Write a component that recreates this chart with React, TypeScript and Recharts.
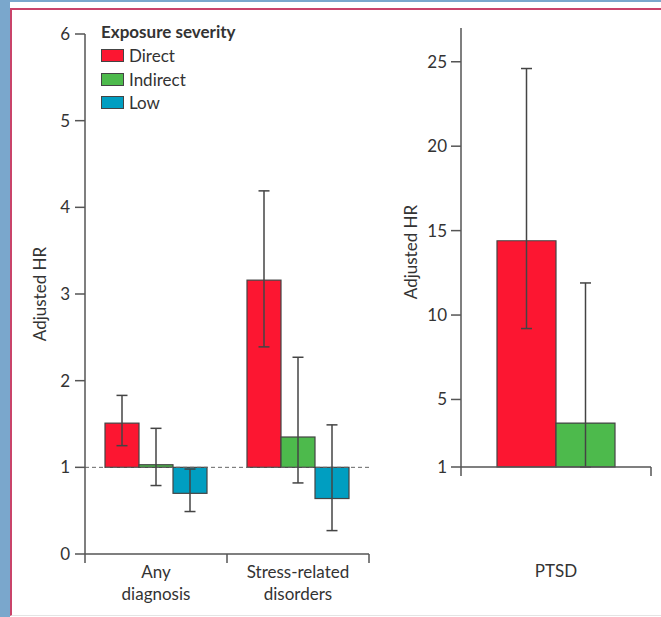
import { BarChart, Bar, XAxis, YAxis, ErrorBar, ReferenceLine, Legend } from 'recharts';

// hazard ratios by exposure severity, with 95% CI
const groups = ['Any diagnosis', 'Stress-related disorders'];
const direct = [1.51, 3.16];
const directCI = [[1.25, 1.83], [2.39, 4.19]];
const indirect = [1.03, 1.35];
const indirectCI = [[0.79, 1.45], [0.82, 2.27]];
const low = [0.7, 0.64];
const lowCI = [[0.49, 0.98], [0.27, 1.49]];

const ptsdGroups = ['PTSD'];
const ptsdDirect = [14.4];
const ptsdDirectCI = [[9.2, 24.6]];
const ptsdIndirect = [3.6];
const ptsdIndirectCI = [[1.0, 11.9]];

const leftTicks = [0, 1, 2, 3, 4, 5, 6];
const rightTicks = [1, 5, 10, 15, 20, 25];

const FONT = 'Lato, "Open Sans", sans-serif';
const INK = '#333';
const AXIS = '#555';
const EDGE = '#444';
const RED = '#fc1631';
const GREEN = '#4dba4c';
const BLUE = '#009ec1';

// ErrorBar wants offsets from the value, not the interval ends
const err = (v: number, ci: number[]) => [+(v - ci[0]).toFixed(2), +(ci[1] - v).toFixed(2)];

const mainRows = groups.map((name, i) => ({
  name,
  direct: direct[i],
  directErr: err(direct[i], directCI[i]),
  indirect: indirect[i],
  indirectErr: err(indirect[i], indirectCI[i]),
  low: low[i],
  lowErr: err(low[i], lowCI[i]),
}));

const ptsdRows = ptsdGroups.map((name, i) => ({
  name,
  direct: ptsdDirect[i],
  directErr: err(ptsdDirect[i], ptsdDirectCI[i]),
  indirect: ptsdIndirect[i],
  indirectErr: err(ptsdIndirect[i], ptsdIndirectCI[i]),
}));

// left panel layout
const L_W = 380;
const L_AXIS_W = 85;
const L_RIGHT = 11;
const L_BAND = (L_W - L_AXIS_W - L_RIGHT) / groups.length;

// right panel layout
const R_W = 281;
const R_AXIS_W = 81;
const R_RIGHT = 10;
const R_BAND = (R_W - R_AXIS_W - R_RIGHT) / ptsdGroups.length;

// Recharts lays the bar out from 0; redraw it from the HR = 1 line
function FloatingBar(props: any) {
  const { x, y, width, height, fill, v } = props;
  if (!v || !height) return null;
  const yZero = y + height;
  const yBase = yZero - height / v;
  const top = Math.min(y, yBase);
  const h = Math.abs(yBase - y);
  return <rect x={x} y={top} width={width} height={h} fill={fill} stroke={EDGE} strokeWidth={1.2} />;
}

const floating = (key: string) => (p: any) => <FloatingBar {...p} v={p.payload[key]} />;

function GroupTick(props: any) {
  const { x, y, payload, index, band, firstLine } = props;
  const words = String(payload.value).split(' ');
  const half = band / 2;
  return (
    <g>
      {index === 0 && (
        <line x1={x - half} x2={x - half} y1={y} y2={y + 9} stroke={AXIS} strokeWidth={1.5} />
      )}
      <line x1={x + half} x2={x + half} y1={y} y2={y + 9} stroke={AXIS} strokeWidth={1.5} />
      <text x={x} y={y + firstLine} textAnchor="middle" fill={INK} fontSize={17}>
        {words.map((w, i) => (
          <tspan key={i} x={x} dy={i === 0 ? 0 : 22}>
            {w}
          </tspan>
        ))}
      </text>
    </g>
  );
}

function AxisTitle({ cx, cy }: { cx: number; cy: number }) {
  return (
    <text
      x={cx}
      y={cy}
      transform={`rotate(-90 ${cx} ${cy})`}
      textAnchor="middle"
      dominantBaseline="central"
      fill={INK}
      fontSize={17}
    >
      Adjusted HR
    </text>
  );
}

function SeverityLegend({ payload }: any) {
  return (
    <div style={{ fontFamily: FONT, color: INK, fontSize: 17 }}>
      <div style={{ fontWeight: 700, lineHeight: '25px' }}>Exposure severity</div>
      {(payload || []).map((p: any) => (
        <div key={p.value} style={{ display: 'flex', alignItems: 'center', height: 23.5 }}>
          <span
            style={{
              display: 'inline-block',
              width: 21,
              height: 11,
              background: p.color,
              border: `1px solid ${EDGE}`,
              marginRight: 5,
            }}
          />
          <span>{p.value}</span>
        </div>
      ))}
    </div>
  );
}

const axisLine = { stroke: AXIS, strokeWidth: 1.5 };
const tickText = { fill: INK, fontSize: 17 };
const errProps = { width: 5.5, stroke: EDGE, strokeWidth: 1.5, direction: 'y' as const };

export default function App() {
  return (
    <div
      style={{
        position: 'absolute',
        left: 0,
        top: 0,
        width: 661,
        height: 617,
        background: '#fff',
        overflow: 'hidden',
        fontFamily: FONT,
      }}
    >
      {/* page frame */}
      <div style={{ position: 'absolute', left: 0, top: 0, width: 10, height: 617, background: '#7aa7cc' }} />
      <div style={{ position: 'absolute', left: 0, top: 0, width: 661, height: 2, background: '#7aa7cc' }} />
      <div
        style={{
          position: 'absolute',
          left: 10,
          top: 8,
          width: 700,
          height: 605,
          borderLeft: '2px solid #c9446a',
          borderTop: '2px solid #c9446a',
          borderBottom: '1px solid #e4e4e4',
        }}
      />

      {/* any diagnosis / stress-related disorders */}
      <div style={{ position: 'absolute', left: 0, top: 0 }}>
        <BarChart
          width={L_W}
          height={617}
          data={mainRows}
          margin={{ top: 34, right: L_RIGHT, bottom: 3, left: 0 }}
          barCategoryGap={20}
          barGap={0}
        >
          <XAxis
            dataKey="name"
            axisLine={axisLine}
            tickLine={false}
            tickSize={0}
            tickMargin={0}
            height={60}
            interval={0}
            tick={<GroupTick band={L_BAND} firstLine={24} />}
          />
          <YAxis
            type="number"
            domain={[0, 6]}
            ticks={leftTicks}
            width={L_AXIS_W}
            tickSize={10}
            tickMargin={5}
            axisLine={axisLine}
            tickLine={axisLine}
            tick={tickText}
            label={<AxisTitle cx={39} cy={294} />}
          />
          <ReferenceLine y={1} stroke="#666" strokeDasharray="4 3" strokeWidth={1} />
          <Legend
            layout="vertical"
            verticalAlign="middle"
            align="center"
            wrapperStyle={{ left: 101, top: 19, width: 'auto' }}
            content={<SeverityLegend />}
          />
          <Bar dataKey="direct" name="Direct" fill={RED} shape={floating('direct')} isAnimationActive={false}>
            <ErrorBar dataKey="directErr" {...errProps} />
          </Bar>
          <Bar dataKey="indirect" name="Indirect" fill={GREEN} shape={floating('indirect')} isAnimationActive={false}>
            <ErrorBar dataKey="indirectErr" {...errProps} />
          </Bar>
          <Bar dataKey="low" name="Low" fill={BLUE} shape={floating('low')} isAnimationActive={false}>
            <ErrorBar dataKey="lowErr" {...errProps} />
          </Bar>
        </BarChart>
      </div>

      {/* PTSD */}
      <div style={{ position: 'absolute', left: L_W, top: 0 }}>
        <BarChart
          width={R_W}
          height={617}
          data={ptsdRows}
          margin={{ top: 28, right: R_RIGHT, bottom: 10, left: 0 }}
          barCategoryGap={36}
          barGap={0}
        >
          <XAxis
            dataKey="name"
            axisLine={axisLine}
            tickLine={false}
            tickSize={0}
            tickMargin={0}
            height={140}
            interval={0}
            tick={<GroupTick band={R_BAND} firstLine={110} />}
          />
          <YAxis
            type="number"
            domain={[1, 27]}
            ticks={rightTicks}
            width={R_AXIS_W}
            tickSize={10}
            tickMargin={4}
            axisLine={axisLine}
            tickLine={axisLine}
            tick={tickText}
            label={<AxisTitle cx={30} cy={252} />}
          />
          <Bar dataKey="direct" name="Direct" fill={RED} stroke={EDGE} strokeWidth={1.2} isAnimationActive={false}>
            <ErrorBar dataKey="directErr" {...errProps} />
          </Bar>
          <Bar dataKey="indirect" name="Indirect" fill={GREEN} stroke={EDGE} strokeWidth={1.2} isAnimationActive={false}>
            <ErrorBar dataKey="indirectErr" {...errProps} />
          </Bar>
        </BarChart>
      </div>
    </div>
  );
}
